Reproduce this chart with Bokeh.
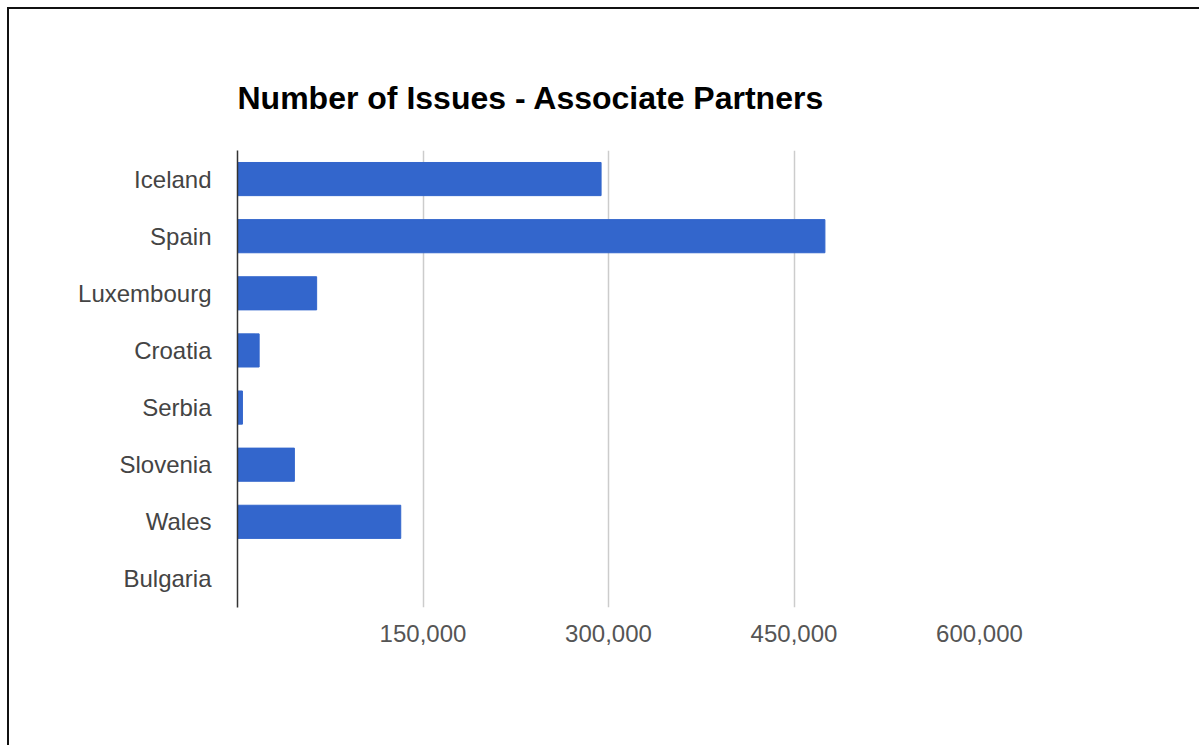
from bokeh.plotting import figure
from bokeh.models import FactorRange, Range1d, NumeralTickFormatter, FixedTicker
from bokeh.embed import file_html
from bokeh.resources import INLINE

countries = ["Iceland", "Spain", "Luxembourg", "Croatia", "Serbia", "Slovenia", "Wales", "Bulgaria"]
issues = [294000, 475000, 64000, 17500, 4000, 46000, 132000, 0]
x_ticks = [150000, 300000, 450000, 600000]
title_text = "Number of Issues - Associate Partners"

OFF = 9
p = figure(
    width=1201 - OFF, height=747 - OFF,
    y_range=FactorRange(*list(reversed(countries)), range_padding=0),
    x_range=Range1d(0, 600000),
    output_backend="svg", toolbar_location=None,
    min_border_left=237 - OFF, min_border_right=1201 - 979,
    min_border_top=150 - OFF, min_border_bottom=747 - 607,
)
p.styles = {"margin-left": "7px", "margin-top": "7px",
            "border-top": "2px solid #111", "border-left": "2px solid #111"}

p.hbar(y=countries, right=issues, height=0.58, color="#3366cc", line_color="#3366cc")

p.title.text = title_text
p.title.text_font = "Liberation Sans"
p.title.text_font_size = "32px"
p.title.text_font_style = "bold"
p.title.text_color = "#000000"
p.title.align = "left"
p.title.standoff = 69

p.outline_line_color = None
p.ygrid.grid_line_color = None
p.xgrid.ticker = FixedTicker(ticks=x_ticks)
p.xgrid.grid_line_color = "#cccccc"
p.xgrid.grid_line_width = 1.5

xa = p.xaxis[0]
xa.ticker = FixedTicker(ticks=x_ticks)
xa.formatter = NumeralTickFormatter(format="0,0")
xa.axis_line_color = None
xa.major_tick_line_color = None
xa.minor_tick_line_color = None
xa.major_label_standoff = 11
xa.major_label_text_font = "Liberation Sans"
xa.major_label_text_font_size = "24px"
xa.major_label_text_color = "#555555"

ya = p.yaxis[0]
ya.axis_line_color = "#333333"
ya.axis_line_width = 1.5
ya.major_tick_line_color = None
ya.minor_tick_line_color = None
ya.major_label_standoff = 20
ya.major_label_text_font = "Liberation Sans"
ya.major_label_text_font_size = "24px"
ya.major_label_text_color = "#444444"

open("out.html", "w").write(file_html(p, INLINE))
